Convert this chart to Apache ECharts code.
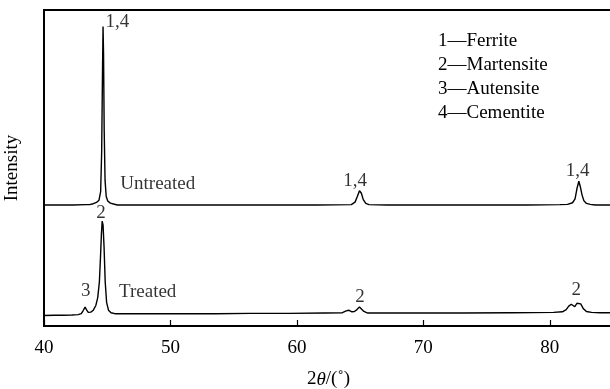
<!DOCTYPE html>
<html>
<head>
<meta charset="utf-8">
<script src="https://cdn.jsdelivr.net/npm/echarts@6/dist/echarts.min.js"></script>
<style>html,body{margin:0;padding:0;background:#fff}#c{width:610px;height:389px}</style>
</head>
<body>
<div id="c"></div>
<script>
// 2θ (deg), intensity (a.u., curves stacked vertically)
const untreated = [[40.0,38.3],[40.9,38.3],[41.0,38.6],[41.1,38.3],[42.1,38.3],[42.2,38.6],[42.3,38.3],[43.3,38.4],[43.6,38.4],[43.9,38.7],[44.15,39.1],[44.35,39.8],[44.48,42.5],[44.56,55],[44.62,78],[44.67,94.8],[44.71,86],[44.76,62],[44.83,46],[44.92,41],[45.05,39.5],[45.25,38.9],[45.5,38.6],[45.8,38.3],[47.6,38.3],[47.7,38.6],[47.8,38.3],[50.2,38.3],[50.3,38.5],[50.4,38.3],[53.9,38.3],[54.0,38.6],[54.1,38.3],[57.6,38.3],[57.7,38.5],[57.8,38.3],[61.4,38.3],[61.5,38.5],[61.6,38.3],[64.3,38.4],[64.6,39.2],[64.78,41.0],[64.95,42.8],[65.1,42.0],[65.25,40.0],[65.45,38.8],[65.7,38.4],[67.1,38.3],[67.2,38.6],[67.3,38.3],[70.5,38.3],[70.6,38.5],[70.7,38.3],[74.4,38.3],[74.5,38.6],[74.6,38.3],[78.0,38.3],[78.1,38.5],[78.2,38.3],[80.8,38.4],[81.4,38.5],[81.8,39.0],[82.0,40.2],[82.15,43.5],[82.3,45.8],[82.42,44.0],[82.55,41.5],[82.7,39.6],[82.9,38.8],[83.2,38.5],[83.6,38.3],[84.3,38.3],[84.4,38.6],[84.5,38.3],[85.0,38.3]];
const treated = [[40.0,3.3],[40.8,3.4],[41.5,3.4],[42.2,3.5],[42.7,3.6],[42.95,3.9],[43.1,4.9],[43.25,6.0],[43.38,5.0],[43.5,4.3],[43.7,4.4],[43.9,5.0],[44.1,6.5],[44.25,9],[44.38,14],[44.47,22],[44.54,29],[44.6,33.2],[44.67,32],[44.75,25],[44.84,14],[44.95,7.5],[45.1,5.0],[45.3,4.2],[45.6,3.9],[46.5,3.9],[48.3,3.9],[48.4,4.2],[48.5,3.9],[50.6,3.9],[50.7,4.2],[50.8,3.9],[53.4,3.9],[53.5,4.2],[53.6,3.9],[56.3,4.0],[56.4,4.3],[56.5,4.0],[59.2,4.0],[59.3,4.3],[59.4,4.0],[62.1,4.1],[62.2,4.4],[62.3,4.1],[63.6,4.2],[63.9,4.8],[64.1,5.0],[64.35,4.5],[64.55,4.6],[64.75,5.2],[64.95,6.0],[65.1,5.6],[65.3,4.6],[65.6,4.1],[68.5,4.1],[68.6,4.4],[68.7,4.1],[72.9,4.1],[73.0,4.4],[73.1,4.1],[76.8,4.2],[76.9,4.5],[77.0,4.2],[80.3,4.3],[81.0,4.5],[81.3,5.2],[81.5,6.3],[81.7,6.9],[81.85,6.3],[81.98,6.1],[82.15,7.2],[82.3,7.7],[82.45,7.0],[82.65,5.5],[82.9,4.6],[83.3,4.3],[84,4.2],[85.0,4.2]];
// annotations: [2θ, intensity, text]
const peakLabels = [[45.8,96.2,'1,4'],[64.6,45.9,'1,4'],[82.2,49.1,'1,4'],[49.0,44.9,'Untreated'],[44.5,35.8,'2'],[43.3,11.0,'3'],[48.2,10.8,'Treated'],[65.0,9.2,'2'],[82.1,11.4,'2']];
const legendLines = ['1—Ferrite','2—Martensite','3—Autensite','4—Cementite'];
const xTicks = [40,50,60,70,80];

const FONT = '"Liberation Serif","Times New Roman",serif';
const chart = echarts.init(document.getElementById('c'), null, {renderer:'canvas'});
chart.setOption({
  animation:false,
  backgroundColor:'#fff',
  grid:{left:44, top:10, right:-3, bottom:63, containLabel:false, outerBoundsMode:'none',
    show:true, borderColor:'#000', borderWidth:2, backgroundColor:'transparent'},
  xAxis:{
    type:'value', min:40, max:85, interval:10,
    axisLine:{show:true, onZero:false, lineStyle:{color:'#000', width:2}},
    axisTick:{show:true, inside:true, length:6, lineStyle:{color:'#000', width:1.2}},
    axisLabel:{margin:13, color:'#000', fontFamily:FONT, fontSize:19,
      formatter:v => xTicks.indexOf(v) >= 0 ? String(v) : ''},
    splitLine:{show:false},
    name:'2{i|θ}/(˚)', nameLocation:'middle', nameGap:44,
    nameTextStyle:{color:'#000', fontFamily:FONT, fontSize:19,
      rich:{i:{fontStyle:'italic', fontFamily:FONT, fontSize:19, color:'#000'}}}
  },
  yAxis:{
    type:'value', min:0, max:100,
    axisLine:{show:true, lineStyle:{color:'#000', width:2}},
    axisTick:{show:false}, axisLabel:{show:false}, splitLine:{show:false},
    name:'Intensity', nameLocation:'middle', nameGap:22,
    nameTextStyle:{color:'#000', fontFamily:FONT, fontSize:19}
  },
  series:[
    {type:'line', data:untreated, showSymbol:false, symbol:'none', lineStyle:{color:'#000', width:1.4}},
    {type:'line', data:treated, showSymbol:false, symbol:'none', lineStyle:{color:'#000', width:1.4}},
    {type:'scatter', data:peakLabels.map(d=>({value:[d[0],d[1]], name:d[2]})), symbolSize:1,
      itemStyle:{color:'rgba(0,0,0,0)'},
      label:{show:true, position:'inside', formatter:p=>p.name, color:'#000', fontFamily:FONT, fontSize:19},
      silent:true}
  ],
  graphic:[{type:'text', left:438, top:29,
    style:{text:legendLines.join('\n'), fill:'#000', font:'19px ' + FONT, lineHeight:24}}]
});
</script>
</body>
</html>
